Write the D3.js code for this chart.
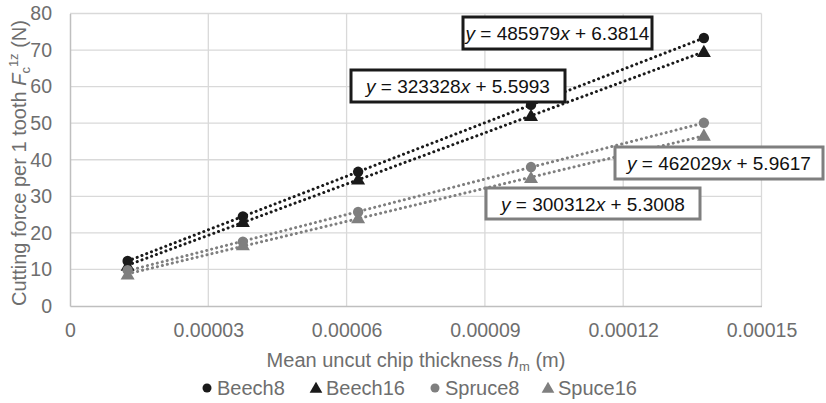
<!DOCTYPE html>
<html>
<head>
<meta charset="utf-8">
<script src="https://cdn.jsdelivr.net/npm/d3@7"></script>
<style>
  html, body { margin: 0; padding: 0; background: #fff; }
  svg { display: block; font-family: "Liberation Sans", Arial, sans-serif; }
</style>
</head>
<body>
<svg id="chart" width="826" height="403"></svg>
<script>
// ---- data ----
const xValues = [0.0000125, 0.0000375, 0.0000625, 0.0001, 0.0001375];
const beech8  = [12.3, 24.5, 36.7, 55.0, 73.3];
const beech16 = [11.0, 23.0, 34.6, 52.0, 69.5];
const spruce8 = [9.8, 17.6, 25.7, 38.0, 50.1];
const spuce16 = [8.6, 16.6, 24.0, 35.0, 46.6];
const seriesNames = ["Beech8", "Beech16", "Spruce8", "Spuce16"];
const xTicks = [0, 0.00003, 0.00006, 0.00009, 0.00012, 0.00015];
const xTickLabels = ["0", "0.00003", "0.00006", "0.00009", "0.00012", "0.00015"];
const yTicks = [0, 10, 20, 30, 40, 50, 60, 70, 80];
const eqSlopes = ["485979", "323328", "462029", "300312"];
const eqIntercepts = ["6.3814", "5.5993", "5.9617", "5.3008"];

// ---- styling ----
const dark = "#1a1a1a", grey = "#7f7f7f", textCol = "#6e6e6e";
const FONT = "'Liberation Sans', Arial, sans-serif";
const series = [
  {name: seriesNames[0], values: beech8,  color: dark, shape: "circle"},
  {name: seriesNames[1], values: beech16, color: dark, shape: "triangle"},
  {name: seriesNames[2], values: spruce8, color: grey, shape: "circle"},
  {name: seriesNames[3], values: spuce16, color: grey, shape: "triangle"}
];

const svg = d3.select("#chart");
const x = d3.scaleLinear().domain([0, 0.00015]).range([70, 761.5]);
const y = d3.scaleLinear().domain([0, 80]).range([306, 13.5]);

// gridlines
const grid = svg.append("g");
grid.selectAll(".hg").data(yTicks.slice(1)).join("line")
  .attr("x1", x(0)).attr("x2", x(0.00015))
  .attr("y1", d => y(d)).attr("y2", d => y(d))
  .attr("stroke", "#d9d9d9").attr("stroke-width", 1.3);
grid.selectAll(".vg").data(xTicks.slice(1)).join("line")
  .attr("x1", d => x(d)).attr("x2", d => x(d))
  .attr("y1", y(0)).attr("y2", y(80))
  .attr("stroke", "#d9d9d9").attr("stroke-width", 1.3);

// axes
const xAxis = svg.append("g").attr("transform", `translate(0,${y(0)})`)
  .call(d3.axisBottom(x).tickValues(xTicks).tickFormat((d, i) => xTickLabels[i]).tickSize(0).tickPadding(17));
xAxis.select(".domain").attr("stroke", "#bfbfbf").attr("stroke-width", 1.5);
xAxis.selectAll("text").attr("fill", textCol).attr("font-size", 19.5).attr("font-family", FONT);

const yAxis = svg.append("g").attr("transform", `translate(${x(0)},0)`)
  .call(d3.axisLeft(y).tickValues(yTicks).tickSize(0).tickPadding(18));
yAxis.select(".domain").attr("stroke", "#bfbfbf").attr("stroke-width", 1.5);
yAxis.selectAll("text").attr("fill", textCol).attr("font-size", 19.5).attr("font-family", FONT);

// trendlines (least squares over data range)
function fit(vals) {
  const mx = d3.mean(xValues), my = d3.mean(vals);
  let sxy = 0, sxx = 0;
  xValues.forEach((xv, i) => { sxy += (xv - mx) * (vals[i] - my); sxx += (xv - mx) ** 2; });
  const b = sxy / sxx; return {b, a: my - b * mx};
}
const x0 = d3.min(xValues), x1 = d3.max(xValues);
series.forEach(s => {
  const f = fit(s.values);
  svg.append("line")
    .attr("x1", x(x0)).attr("y1", y(f.a + f.b * x0))
    .attr("x2", x(x1)).attr("y2", y(f.a + f.b * x1))
    .attr("stroke", s.color).attr("stroke-width", 3)
    .attr("stroke-dasharray", "0.1 5").attr("stroke-linecap", "round");
});

// markers
const triSym = d3.symbol().type(d3.symbolTriangle).size(85);
function drawMarker(g, shape, color, cx, cy) {
  if (shape === "circle") {
    g.append("circle").attr("cx", cx).attr("cy", cy).attr("r", 5.2).attr("fill", color);
  } else {
    g.append("path").attr("d", triSym()).attr("transform", `translate(${cx},${cy + 1})`).attr("fill", color);
  }
}
const mk = svg.append("g");
series.forEach(s => {
  s.values.forEach((v, i) => drawMarker(mk, s.shape, s.color, x(xValues[i]), y(v)));
});

// equation labels
const eqBoxes = [
  {i: 0, color: dark, bx: 463, by: 17, bw: 189, bh: 32},
  {i: 1, color: dark, bx: 351, by: 70, bw: 214, bh: 32},
  {i: 2, color: grey, bx: 615, by: 147, bw: 208, bh: 32},
  {i: 3, color: grey, bx: 486, by: 188, bw: 214, bh: 31}
];
eqBoxes.forEach(b => {
  const g = svg.append("g");
  g.append("rect").attr("x", b.bx).attr("y", b.by).attr("width", b.bw).attr("height", b.bh)
    .attr("fill", "#fff").attr("stroke", b.color).attr("stroke-width", 3);
  const t = g.append("text").attr("x", b.bx + b.bw / 2).attr("y", b.by + b.bh / 2 + 7)
    .attr("text-anchor", "middle").attr("font-size", 19).attr("fill", "#111");
  t.append("tspan").attr("font-style", "italic").text("y");
  t.append("tspan").text(" = " + eqSlopes[b.i]);
  t.append("tspan").attr("font-style", "italic").text("x");
  t.append("tspan").text(" + " + eqIntercepts[b.i]);
});

// axis titles
const xt = svg.append("text").attr("x", 416).attr("y", 367).attr("text-anchor", "middle")
  .attr("font-size", 20).attr("fill", textCol);
xt.append("tspan").text("Mean uncut chip thickness ");
xt.append("tspan").attr("font-style", "italic").text("h");
xt.append("tspan").attr("font-size", 13).attr("dy", 4).text("m");
xt.append("tspan").attr("dy", -4).text(" (m)");

const yt = svg.append("text").attr("transform", "translate(26,163) rotate(-90)").attr("text-anchor", "middle")
  .attr("font-size", 20).attr("fill", textCol);
yt.append("tspan").text("Cutting force per 1 tooth ");
yt.append("tspan").attr("font-style", "italic").text("F");
yt.append("tspan").attr("font-size", 13).attr("dy", 4).text("c");
yt.append("tspan").attr("font-size", 13).attr("dy", -12).text("1z");
yt.append("tspan").attr("dy", 8).text(" (N)");

// legend
const legX = [207, 316, 435, 548];
const leg = svg.append("g");
series.forEach((s, i) => {
  if (s.shape === "circle") {
    leg.append("circle").attr("cx", legX[i]).attr("cy", 388).attr("r", 4.5).attr("fill", s.color);
  } else {
    leg.append("path").attr("d", d3.symbol().type(d3.symbolTriangle).size(70)()).attr("transform", `translate(${legX[i]},389)`).attr("fill", s.color);
  }
  leg.append("text").attr("x", legX[i] + 10).attr("y", 395).attr("font-size", 20).attr("fill", textCol).text(s.name);
});
</script>
</body>
</html>
